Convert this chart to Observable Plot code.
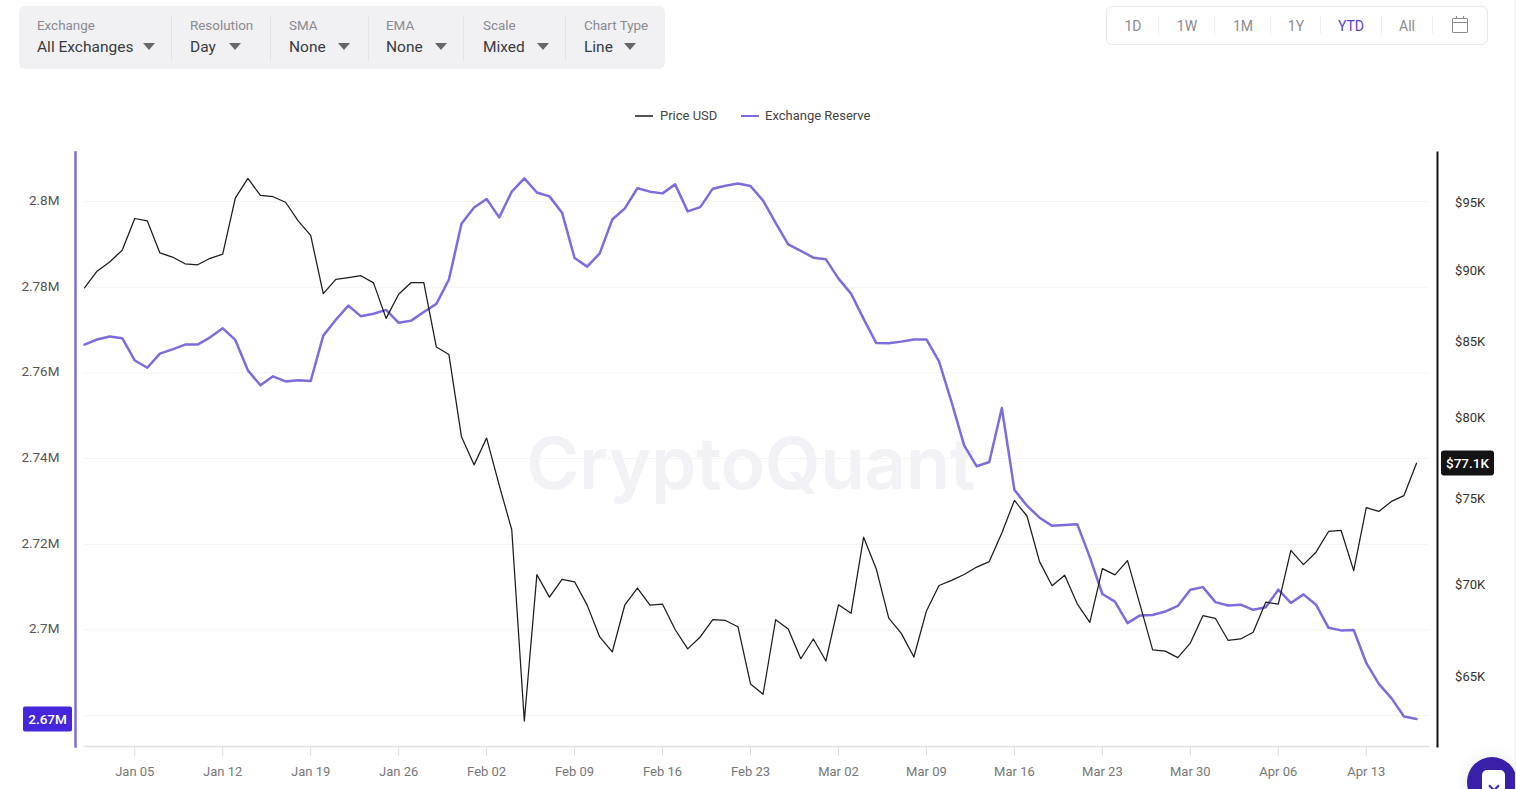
<!DOCTYPE html>
<html>
<head>
<meta charset="utf-8">
<script src="https://cdn.jsdelivr.net/npm/d3@7"></script>
<script src="https://cdn.jsdelivr.net/npm/@observablehq/plot@0.6"></script>
<style>
html,body{margin:0;padding:0;background:#fff;overflow:hidden}
#page{position:relative;width:1516px;height:789px;overflow:hidden;font-family:Roboto,sans-serif;background:#fff}
#page svg.plot,#page>svg{position:absolute;left:0;top:0}
.abs{position:absolute;white-space:nowrap}
.toolbar{left:19px;top:6px;width:646px;height:63px;background:#f1f1f4;border-radius:6px}
.cap{font-size:13.4px;color:#8a8a8f;transform:translateY(-50%)}
.val{font-size:15.5px;color:#3a3a3e;transform:translateY(-50%)}
.caret{width:0;height:0;border-left:6px solid transparent;border-right:6px solid transparent;border-top:7px solid #66666c;transform:translateX(-50%)}
.sep{width:1px;background:#e4e4e8}
.range{left:1106px;top:6px;width:380px;height:37px;border:1px solid #e8e8ea;border-radius:6px;background:#fff}
.rng{font-size:14px;color:#8a8a8f;transform:translate(-50%,-50%)}
.leg{font-size:13px;color:#444;transform:translateY(-50%)}
.tag{color:#fff;font-size:13.5px;font-weight:500;display:flex;align-items:center;justify-content:center;transform:translateY(-50%)}
</style>
</head>
<body>
<div id="page"></div>
<script>
const startDate = "2026-01-01";
const dayCount = 107;
const priceUSD = [
88730,89920,90580,91440,93790,93610,91240,90940,90450,90380,90850,91150,95330,96850,95540,95440,95020,93610,92530,88310,
89330,89450,89590,89080,86580,88270,89100,89100,84620,84110,78750,77000,78670,75760,73100,62720,70520,69260,70250,70120,
68820,67090,66290,68840,69770,68820,68870,67490,66450,67090,68020,67980,67640,64610,64080,68020,67520,65930,66980,65810,
68840,68370,72670,70860,68110,67280,66020,68500,69910,70200,70530,70950,71260,72910,74840,73910,71260,69900,70490,68890,
67880,70860,70510,71320,68830,66400,66330,65990,66760,68240,68090,66910,66980,67340,68980,68870,71900,71090,71800,73000,
73060,70750,74410,74180,74780,75130,77100];
const exchangeReserve = [
2766600,2767800,2768500,2768100,2762900,2761200,2764500,2765500,2766600,2766600,2768300,2770400,2767700,2760600,2757100,2759200,2758000,2758300,2758100,2768700,
2772400,2775700,2773200,2773800,2774700,2771700,2772200,2774200,2776100,2781800,2794800,2798600,2800600,2796300,2802300,2805400,2802100,2801200,2797400,2786800,
2784800,2787900,2795800,2798400,2803100,2802300,2801900,2804000,2797700,2798700,2803000,2803700,2804200,2803600,2800200,2795000,2790000,2788500,2786900,2786500,
2782000,2778500,2772600,2767000,2766900,2767300,2767800,2767800,2762700,2753200,2743100,2738200,2739200,2751800,2732700,2729000,2726200,2724300,2724500,2724700,
2717000,2708400,2706600,2701600,2703400,2703500,2704300,2705600,2709400,2710000,2706500,2705700,2705900,2704700,2705300,2709400,2706300,2708300,2705900,2700500,
2699900,2700000,2692300,2687400,2684100,2679800,2679200];
const xTickLabels = ["2026-01-05","2026-01-12","2026-01-19","2026-01-26","2026-02-02","2026-02-09","2026-02-16","2026-02-23","2026-03-02","2026-03-09","2026-03-16","2026-03-23","2026-03-30","2026-04-06","2026-04-13"];
const reserveGrid = [2680000,2700000,2720000,2740000,2760000,2780000,2800000];
const reserveTicks = [2700000,2720000,2740000,2760000,2780000,2800000];
const priceTicks = [65000,70000,75000,80000,85000,90000,95000];
const reserveTag = "2.67M";
const priceTag = "$77.1K";
const seriesNames = ["Price USD","Exchange Reserve"];
const seriesColors = ["#1c1c1c","#7b6ddc"];
const toolbarItems = [["Exchange","All Exchanges"],["Resolution","Day"],["SMA","None"],["EMA","None"],["Scale","Mixed"],["Chart Type","Line"]];
const rangeItems = ["1D","1W","1M","1Y","YTD","All"];

const start = new Date(startDate + "T00:00:00Z");
const dates = d3.utcDay.range(start, d3.utcDay.offset(start, dayCount));
const priceRows = dates.map((date,i)=>({date,value:priceUSD[i]}));
const reserveRows = dates.map((date,i)=>({date,value:exchangeReserve[i]}));
const xDomain = [start, d3.utcDay.offset(start, dayCount)];
const common = {
  width:1516,height:789,marginTop:152,marginBottom:43,marginLeft:84,marginRight:87.4,
  style:{background:"transparent",fontFamily:"Roboto,sans-serif",fontSize:"13px",overflow:"visible"}
};

const reservePlot = Plot.plot({...common,
  x:{type:"utc",domain:xDomain},
  y:{type:"linear",domain:[2672800,2811440]},
  marks:[
    Plot.text(["CryptoQuant"],{frameAnchor:"middle",dx:-6,dy:16,fontSize:72,fontWeight:600,fill:"#f1f1f6",fontFamily:"Inter,sans-serif"}),
    Plot.gridY(reserveGrid,{stroke:"#f3f3f3",strokeOpacity:1}),
    Plot.frame({anchor:"bottom",stroke:"#e2e2e2",strokeWidth:1.5}),
    Plot.frame({anchor:"left",dx:-9,stroke:"#7b6ddc",strokeWidth:2.5}),
    Plot.axisX(xTickLabels.map(d=>new Date(d+"T00:00:00Z")),{anchor:"bottom",tickSize:10,tickPadding:10.5,label:null,tickFormat:d3.utcFormat("%b %d"),stroke:"#dcdcdc",fill:"#777"}),
    Plot.axisY(reserveTicks,{anchor:"left",tickSize:0,tickPadding:25,label:null,tickFormat:d=>`${d/1e6}M`,fill:"#555",fontSize:13.5,dy:-1}),
    Plot.line(reserveRows,{x:"date",y:"value",stroke:seriesColors[1],strokeWidth:2.5,curve:"linear"})
  ]
});
const pricePlot = Plot.plot({...common,
  x:{type:"utc",domain:xDomain,axis:null},
  y:{type:"log",domain:[61455,98880]},
  marks:[
    Plot.axisY(priceTicks,{anchor:"right",tickSize:0,tickPadding:26,label:null,tickFormat:d=>`$${d/1000}K`,fill:"#333",dy:0.6}),
    Plot.frame({anchor:"right",dx:8.4,stroke:"#111",strokeWidth:2}),
    Plot.line(priceRows,{x:"date",y:"value",stroke:seriesColors[0],strokeWidth:1.25,curve:"linear"})
  ]
});

const page = document.getElementById("page");
page.append(reservePlot, pricePlot);

function add(cls, css, text){
  const el = document.createElement("div");
  el.className = "abs " + cls;
  Object.assign(el.style, css);
  if (text != null) el.textContent = text;
  page.append(el);
  return el;
}
// toolbar
add("toolbar",{});
const textX = [37,190,289,386,483,584], caretX = [149,235,344,441,543,630], sepX = [171,270,368,463,565];
toolbarItems.forEach(([c,v],i)=>{
  add("cap",{left:textX[i]+"px",top:"24.5px"},c);
  add("val",{left:textX[i]+"px",top:"46.5px"},v);
  add("caret",{left:caretX[i]+"px",top:"43px"});
});
sepX.forEach(x=>add("sep",{left:x+"px",top:"15px",height:"46px"}));
// range selector
add("range",{});
const rangeX = [1133,1187,1243,1296,1351,1407], rangeSep = [1158,1214,1270,1320,1381,1432];
rangeItems.forEach((t,i)=>add("rng",{left:rangeX[i]+"px",top:"26px",color:t==="YTD"?"#5a3fd4":"#8a8a8f"},t));
rangeSep.forEach(x=>add("sep",{left:x+"px",top:"15px",height:"20px",background:"#eeeeef"}));
add("",{left:"1452px",top:"18px",width:"14px",height:"13px",border:"1px solid #8a8a8f",borderRadius:"1px"});
add("",{left:"1452px",top:"22px",width:"15px",height:"1px",background:"#8a8a8f"});
add("",{left:"1456px",top:"16px",width:"1px",height:"3px",background:"#8a8a8f"});
add("",{left:"1463px",top:"16px",width:"1px",height:"3px",background:"#8a8a8f"});
// legend
add("",{left:"635px",top:"115px",width:"18px",height:"1.5px",background:"#555"});
add("leg",{left:"660px",top:"114.5px"},seriesNames[0]);
add("",{left:"741px",top:"114.5px",width:"18px",height:"2px",background:seriesColors[1]});
add("leg",{left:"765px",top:"114.5px"},seriesNames[1]);
// end-value tags, placed by the scales
const ry = reservePlot.scale("y").apply(exchangeReserve[exchangeReserve.length-1]);
const py = pricePlot.scale("y").apply(priceUSD[priceUSD.length-1]);
add("tag",{left:"23px",top:ry+"px",width:"49px",height:"25px",background:"#4526dd",borderRadius:"2px"},reserveTag);
add("tag",{left:"1441px",top:py+"px",width:"53px",height:"25px",background:"#131316",borderRadius:"3px"},priceTag);
// chat button
add("",{left:"1467px",top:"757px",width:"50px",height:"50px",borderRadius:"50%",background:"#3a20a8",boxShadow:"0 0 16px rgba(0,0,0,.10)"});
add("",{left:"1482px",top:"770px",width:"23px",height:"24px",borderRadius:"5px",background:"#fff"});
add("",{left:"1490px",top:"782px",width:"6px",height:"6px",borderRight:"2px solid #3a20a8",borderBottom:"2px solid #3a20a8",transform:"rotate(45deg)"});
add("",{left:"1515px",top:"0",width:"1px",height:"789px",background:"#ececec"});
</script>
</body>
</html>
